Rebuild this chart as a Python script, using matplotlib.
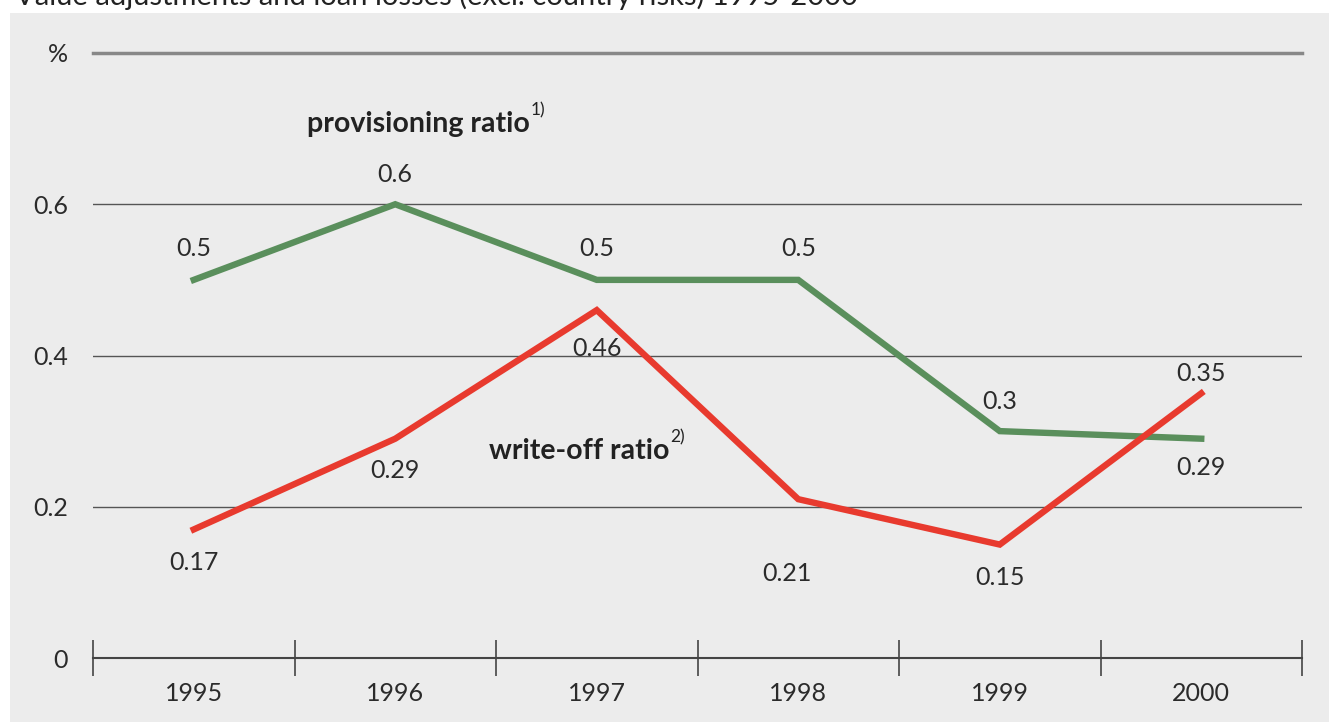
import matplotlib
matplotlib.use("Agg")
import matplotlib.pyplot as plt
from matplotlib.patches import Rectangle

# data
years = ["1995", "1996", "1997", "1998", "1999", "2000"]
provisioning = [0.5, 0.6, 0.5, 0.5, 0.3, 0.29]
writeoff = [0.17, 0.29, 0.46, 0.21, 0.15, 0.35]
prov_labels = ["0.5", "0.6", "0.5", "0.5", "0.3", "0.29"]
woff_labels = ["0.17", "0.29", "0.46", "0.21", "0.15", "0.35"]
yticks = [0, 0.2, 0.4, 0.6]

# label offsets in pixels (right / up positive)
prov_dx = [0, 0, 0, 0, 0, 0]
prov_dy = [31, 30, 31, 31, 30, -29]
woff_dx = [0, 0, 0, -11, 0, 0]
woff_dy = [-33, -32, -38, -74, -33, 20]

GREEN = "#5a8f5c"
RED = "#e83a2e"
TXT = "#2b2b2b"
BG = "#ececec"

plt.rcParams["font.family"] = ["Lato", "DejaVu Sans"]

fig = plt.figure(figsize=(13.29, 7.22), dpi=100, facecolor="white")
fig.patches.append(Rectangle((10 / 1329, 0), 1, 1 - 13 / 722, transform=fig.transFigure,
                             facecolor=BG, edgecolor="none", zorder=-10))

fig.text(15 / 1329, 1 - 5 / 722, "Value adjustments and loan losses (excl. country risks) 1995-2000",
         fontsize=21, color="#222222", va="baseline", ha="left")

ax = fig.add_axes([93 / 1329, (722 - 658) / 722, (1302 - 93) / 1329, (658 - 53) / 722])
ax.set_facecolor("none")
ax.set_xlim(0, len(years))
ax.set_ylim(0, 0.8)

x = [i + 0.5 for i in range(len(years))]

for v in yticks[1:]:
    ax.axhline(v, color="#555555", lw=1.0, zorder=1)
ax.axhline(0.8, color="#888888", lw=2.5, zorder=1, clip_on=False)

ax.plot(x, provisioning, color=GREEN, lw=4.6, solid_joinstyle="miter", zorder=3)
ax.plot(x, writeoff, color=RED, lw=4.6, solid_joinstyle="miter", zorder=3)

for xi, v, s, dx, dy in zip(x, provisioning, prov_labels, prov_dx, prov_dy):
    ax.annotate(s, (xi, v), xytext=(dx, dy), textcoords="offset pixels", ha="center",
                va="center", fontsize=18, color=TXT)
for xi, v, s, dx, dy in zip(x, writeoff, woff_labels, woff_dx, woff_dy):
    ax.annotate(s, (xi, v), xytext=(dx, dy), textcoords="offset pixels", ha="center",
                va="center", fontsize=18, color=TXT)

# series names
t1 = ax.text((307 - 93) / (1302 - 93), (658 - 124) / (658 - 53), "provisioning ratio", fontsize=20.5,
             fontweight="bold", color="#222222", transform=ax.transAxes, va="center", ha="left")
ax.annotate("1)", xy=(1, 0.72), xycoords=t1, xytext=(1, 0), textcoords="offset pixels",
            fontsize=12.5, color="#222222", va="bottom", ha="left")
t2 = ax.text((489 - 93) / (1302 - 93), (658 - 451) / (658 - 53), "write-off ratio", fontsize=20.5,
             fontweight="bold", color="#222222", transform=ax.transAxes, va="center", ha="left")
ax.annotate("2)", xy=(1, 0.72), xycoords=t2, xytext=(1, 0), textcoords="offset pixels",
            fontsize=12.5, color="#222222", va="bottom", ha="left")

# axes styling
for side in ["left", "right", "top"]:
    ax.spines[side].set_visible(False)
ax.spines["bottom"].set_color("#444444")
ax.spines["bottom"].set_linewidth(1.5)

ax.set_xticks(range(len(years) + 1))
ax.set_xticklabels([])
ax.tick_params(axis="x", which="major", direction="inout", length=26, width=1.2, color="#444444")
ax.set_xticks(x, minor=True)
ax.set_xticklabels(years, minor=True)
ax.tick_params(axis="x", which="minor", length=0, pad=17, labelsize=18, labelcolor=TXT)

ax.set_yticks(yticks + [0.8])
ax.set_yticklabels(["0", "0.2", "0.4", "0.6", "%"])
ax.tick_params(axis="y", length=0, pad=18, labelsize=18, labelcolor=TXT)

fig.savefig("out.png", dpi=100, facecolor="white")
